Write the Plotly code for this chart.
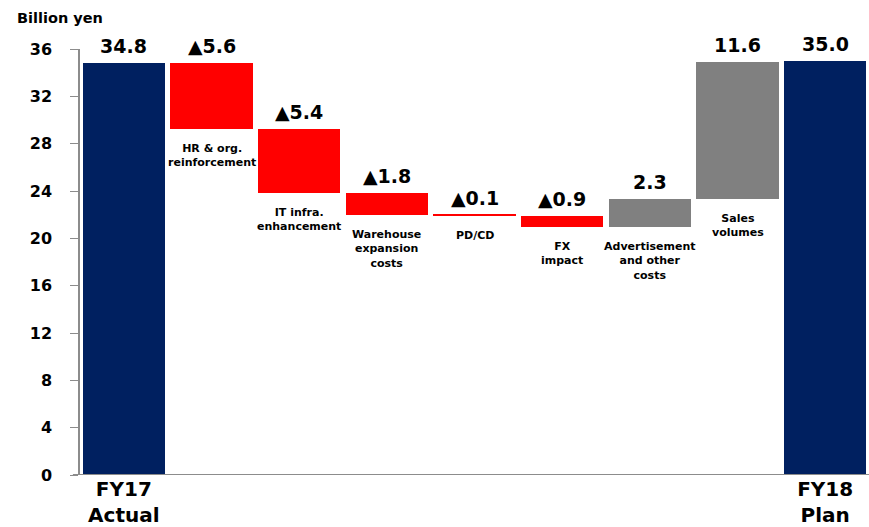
import plotly.graph_objects as go

# ---- data ----
start_label = "FY17<br>Actual"
end_label = "FY18<br>Plan"
start_value = 34.8
end_value = 35.0
step_labels = ["HR & org.<br>reinforcement", "IT infra.<br>enhancement",
               "Warehouse<br>expansion<br>costs", "PD/CD", "FX<br>impact",
               "Advertisement<br>and other<br>costs", "Sales<br>volumes"]
step_deltas = [-5.6, -5.4, -1.8, -0.1, -0.9, 2.3, 11.6]
y_ticks = [0, 4, 8, 12, 16, 20, 24, 28, 32, 36]

NAVY = "#002060"
RED = "#FF0000"
GRAY = "#808080"
FONT = "DejaVu Sans, Arial, sans-serif"

# build floating bars
xs, bases, heights, colors, tops, bottoms, vtexts = [], [], [], [], [], [], []
xs.append(0); bases.append(0); heights.append(start_value); colors.append(NAVY)
tops.append(start_value); bottoms.append(0); vtexts.append(f"{start_value:.1f}")
level = start_value
for i, d in enumerate(step_deltas):
    b = level if d >= 0 else level + d
    xs.append(i + 1); bases.append(b); heights.append(abs(d))
    colors.append(GRAY if d >= 0 else RED)
    tops.append(b + abs(d)); bottoms.append(b)
    vtexts.append(f"{d:.1f}" if d >= 0 else f"▲{abs(d):.1f}")
    level += d
n = len(step_deltas) + 1
xs.append(n); bases.append(0); heights.append(end_value); colors.append(NAVY)
tops.append(end_value); bottoms.append(0); vtexts.append(f"{end_value:.1f}")

fig = go.Figure()
fig.add_trace(go.Bar(x=xs, y=heights, base=bases, marker_color=colors,
                     marker_line_width=0, width=0.94, hoverinfo="skip"))

annotations = []
for x, t, v in zip(xs, tops, vtexts):
    annotations.append(dict(x=x, y=t, text=v, showarrow=False, yanchor="bottom",
                            yshift=4, font=dict(family=FONT, size=19, color="black",
                                                weight="bold")))
for i, lab in enumerate(step_labels):
    annotations.append(dict(x=xs[i + 1], y=bottoms[i + 1], text=lab, showarrow=False,
                            yanchor="top", yshift=-11,
                            font=dict(family=FONT, size=11, color="black", weight="bold")))
annotations.append(dict(xref="paper", yref="paper", x=-0.083, y=1.072, xanchor="left",
                        yanchor="middle", text="Billion yen", showarrow=False,
                        font=dict(family=FONT, size=14.5, color="black", weight="bold")))

fig.update_layout(
    width=869, height=527,
    margin=dict(l=80, r=0, t=49, b=49),
    plot_bgcolor="white", paper_bgcolor="white",
    showlegend=False,
    annotations=annotations,
    bargap=0,
    shapes=[dict(type="line", xref="paper", yref="y", x0=-0.009, x1=1, y0=0, y1=0,
                 line=dict(color="#8c8c8c", width=2), layer="above")],
    xaxis=dict(range=[-0.5, n + 0.5], tickvals=[0, n], ticktext=[start_label, end_label],
               showline=False, ticks="",
               showgrid=False, zeroline=False,
               tickfont=dict(family=FONT, size=20, color="black", weight="bold")),
    yaxis=dict(range=[0, 36], tickvals=y_ticks, showline=True, linecolor="#8c8c8c",
               linewidth=1.5, ticks="outside", ticklen=8, tickcolor="#8c8c8c",
               tickwidth=1, showgrid=False, zeroline=False, ticklabelstandoff=15,
               tickfont=dict(family=FONT, size=16, color="black", weight="bold")),
)

fig.write_html("out.html")
